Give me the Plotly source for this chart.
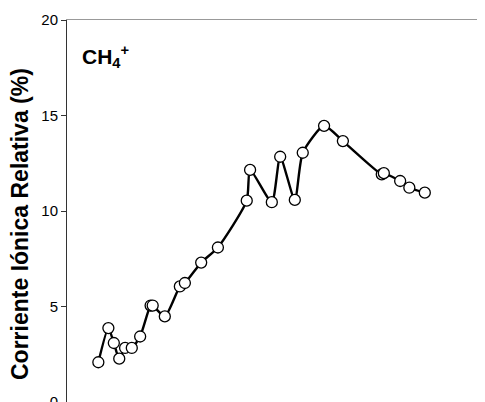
import plotly.graph_objects as go

# Data (x in arbitrary units along the hidden x axis)
x_vals = [7.5, 9.9, 11.2, 12.5, 13.9, 15.5, 17.5, 20.0, 20.5, 23.4, 27.0, 28.2,
          32.1, 36.1, 43.0, 43.8, 49.0, 51.0, 54.5, 56.4, 61.5, 66.0, 75.3, 75.8,
          79.7, 81.9, 85.6]
y_vals = [2.08, 3.87, 3.09, 2.27, 2.83, 2.83, 3.43, 5.05, 5.05, 4.48, 6.05, 6.23,
          7.30, 8.09, 10.54, 12.15, 10.46, 12.84, 10.58, 13.05, 14.46, 13.66, 11.92,
          11.98, 11.57, 11.22, 10.96]
y_ticks = [0, 5, 10, 15, 20]

# The page body has an 8px margin, so the figure is laid out to compensate.
OFF = 8
L, T = 67 - OFF, 20 - OFF
PW, PH = 418, 382  # plot area size in px
W, H = L + PW, T + PH
BOT = T + PH

fig = go.Figure()
fig.add_trace(go.Scatter(
    x=x_vals, y=y_vals, mode="lines+markers",
    line=dict(color="black", width=2.4, shape="spline", smoothing=0.6),
    marker=dict(size=11, color="white", line=dict(color="black", width=1.3)),
    showlegend=False,
))

fig.update_layout(
    width=W, height=H,
    margin=dict(l=L, r=0, t=T, b=0, autoexpand=False),
    paper_bgcolor="white", plot_bgcolor="white",
    font=dict(family="Liberation Sans, Arial, sans-serif", size=15, color="black"),
    xaxis=dict(range=[0, 100], showgrid=False, zeroline=False, automargin=False,
               showticklabels=False, ticks="", showline=True, mirror=True,
               linecolor="#999999", linewidth=1),
    yaxis=dict(range=[0, 20], tickvals=y_ticks, showgrid=False, zeroline=False,
               automargin=False, ticklabeloverflow="allow",
               ticks="outside", ticklen=5, tickcolor="#333333",
               showline=True, linecolor="#333333", linewidth=1,
               tickfont=dict(size=15)),
    annotations=[
        dict(text="<b>Corriente Iónica Relativa (%)</b>", textangle=-90,
             xref="paper", yref="paper",
             x=(20 - OFF - L) / PW, y=(BOT - (224 - OFF)) / PH,
             xanchor="center", yanchor="middle", showarrow=False,
             font=dict(size=23, color="black")),
        dict(text="<b>CH<sub>4</sub><sup>+</sup></b>",
             xref="paper", yref="paper",
             x=(80 - OFF - L) / PW, y=(BOT - (57 - OFF)) / PH,
             xanchor="left", yanchor="middle", showarrow=False,
             font=dict(size=21, color="black")),
    ],
)

fig.write_html("out.html")
